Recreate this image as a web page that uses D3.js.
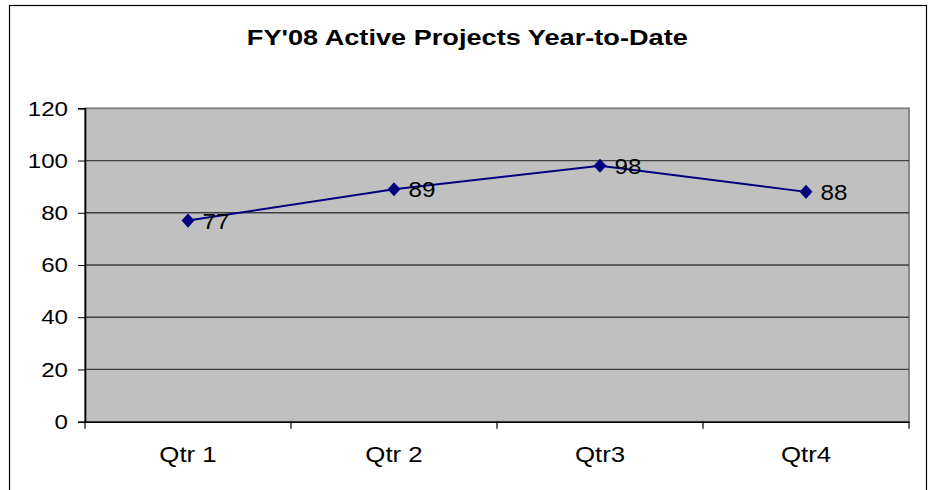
<!DOCTYPE html>
<html><head><meta charset="utf-8">
<script src="https://cdn.jsdelivr.net/npm/d3@7"></script>
<style>body{margin:0;background:#fff;} svg{display:block;font-family:"Liberation Sans",Arial,sans-serif;}</style>
</head><body><svg id="c" width="934" height="490"></svg>
<script>
const categories = ["Qtr 1", "Qtr 2", "Qtr3", "Qtr4"];
const values = [77, 89, 98, 88];
const yTicks = [0, 20, 40, 60, 80, 100, 120];
const title = "FY'08 Active Projects Year-to-Date";

const svg = d3.select("#c");
const L = 85, R = 909, T = 108.3, B = 421.7;
const FONT = "Liberation Sans, Arial, sans-serif";

svg.append("rect").attr("x", 9.5).attr("y", 5.5).attr("width", 917).attr("height", 500)
  .attr("fill", "#fff").attr("stroke", "#000").attr("stroke-width", 1.2);

svg.append("text").attr("x", 467.3).attr("y", 45).attr("text-anchor", "middle")
  .attr("font-size", 22.5).attr("font-weight", "bold")
  .attr("textLength", 441).attr("lengthAdjust", "spacingAndGlyphs").text(title);

const x = d3.scaleBand().domain(categories).range([L, R]).padding(0);
const y = d3.scaleLinear().domain([0, 120]).range([B, T]);

svg.append("rect").attr("x", L).attr("y", T).attr("width", R - L).attr("height", B - T)
  .attr("fill", "#c0c0c0").attr("stroke", "#808080").attr("stroke-width", 1.8);

svg.append("g").selectAll("line").data(yTicks.filter(d => d > 0 && d < 120)).join("line")
  .attr("x1", L).attr("x2", R).attr("y1", d => y(d)).attr("y2", d => y(d))
  .attr("stroke", "#404040").attr("stroke-width", 1.3);

const sx = 1.15;
const yAxis = svg.append("g").attr("transform", `translate(${L},0)`)
  .call(d3.axisLeft(y).tickValues(yTicks).tickSize(7).tickPadding(10));
yAxis.select(".domain").attr("stroke", "#000").attr("stroke-width", 1.6);
yAxis.selectAll(".tick line").attr("stroke", "#000");
yAxis.selectAll("text").attr("font-size", 21).attr("fill", "#000").attr("font-family", FONT)
  .attr("x", -17 / sx).attr("transform", `scale(${sx},1)`);

const xAxis = svg.append("g").attr("transform", `translate(0,${B})`)
  .call(d3.axisBottom(x).tickSize(0).tickPadding(0));
xAxis.select(".domain").attr("stroke", "#000").attr("stroke-width", 1.6);
xAxis.selectAll("text").attr("font-size", 21.5).attr("fill", "#000").attr("font-family", FONT)
  .attr("y", 40).attr("dy", 0).attr("transform", "scale(1.2,1)");
svg.append("g").selectAll("line").data(d3.range(categories.length + 1)).join("line")
  .attr("x1", i => L + i * x.step()).attr("x2", i => L + i * x.step())
  .attr("y1", B).attr("y2", B + 7).attr("stroke", "#000").attr("stroke-width", 1.2);

const cx = d => x(d) + x.bandwidth() / 2;
const pts = categories.map((c, i) => [cx(c), y(values[i])]);
svg.append("path").attr("d", d3.line()(pts)).attr("fill", "none")
  .attr("stroke", "#000080").attr("stroke-width", 2);

svg.append("g").selectAll("path").data(pts).join("path")
  .attr("d", d3.symbol().type(d3.symbolDiamond2).size(105))
  .attr("transform", d => `translate(${d[0]},${d[1]}) scale(1,1.1)`).attr("fill", "#000080");

svg.append("g").selectAll("text").data(values).join("text")
  .attr("transform", (d, i) => `translate(${pts[i][0] + 14.5},${pts[i][1] + 8}) scale(1.1,1)`)
  .attr("font-size", 22).attr("fill", "#000").text(d => d);
</script></body></html>
